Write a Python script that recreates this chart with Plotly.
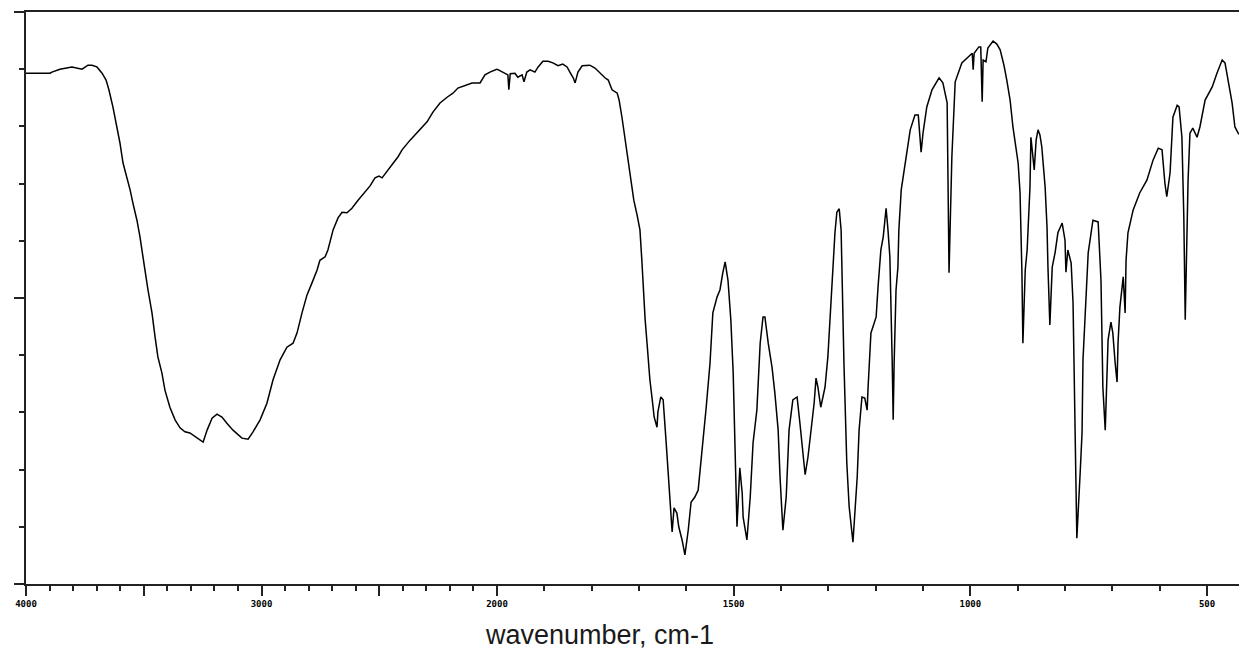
import plotly.graph_objects as go

# IR spectrum: wavenumber (cm-1) and transmittance (%)
wavenumber = [
    4000, 3962, 3898, 3890, 3856, 3805, 3779, 3762, 3737, 3720, 3699, 3677, 3660, 3648, 3631, 3614,
    3601, 3588, 3571, 3558, 3546, 3529, 3516, 3507, 3495, 3482, 3465, 3452, 3440, 3423, 3410, 3389,
    3367, 3346, 3325, 3304, 3274, 3248, 3231, 3210, 3189, 3168, 3147, 3121, 3083, 3057, 3036, 3006,
    2977, 2951, 2921, 2892, 2866, 2849, 2828, 2807, 2786, 2764, 2752, 2730, 2718, 2696, 2675, 2658,
    2637, 2616, 2590, 2565, 2539, 2518, 2501, 2488, 2471, 2446, 2420, 2403, 2369, 2327, 2297, 2272,
    2242, 2212, 2187, 2166, 2136, 2106, 2072, 2051, 2030, 2000,
    1989, 1977, 1975, 1972, 1962, 1956, 1947, 1943, 1937, 1930, 1920, 1913, 1903, 1892, 1882, 1871,
    1861, 1852, 1846, 1839, 1835, 1829, 1820, 1804, 1793, 1782, 1772, 1765, 1757, 1746, 1742, 1736,
    1730, 1723, 1717, 1711, 1704, 1698, 1694, 1691, 1687, 1683, 1677, 1672, 1668, 1662, 1660, 1654,
    1649, 1643, 1639, 1635, 1630, 1626, 1620, 1616, 1609, 1603, 1596, 1590, 1582, 1575, 1567, 1558,
    1550, 1544, 1535, 1529, 1523, 1518, 1512, 1506, 1501, 1497, 1493, 1487, 1482, 1480, 1472, 1465,
    1459, 1451, 1444, 1438, 1434, 1427, 1419, 1413, 1406, 1402, 1396, 1389, 1383, 1375, 1366, 1360,
    1356, 1349, 1343, 1335, 1330, 1326, 1322, 1316, 1311, 1307, 1301, 1296, 1290, 1286, 1282, 1277,
    1273, 1271, 1267, 1261, 1256, 1248, 1244, 1239, 1235, 1229, 1223, 1218, 1216, 1210, 1206, 1199,
    1195, 1189, 1184, 1178, 1174, 1170, 1165, 1163, 1161, 1157, 1153, 1151, 1146, 1138, 1127, 1117,
    1110, 1104, 1100, 1092, 1081, 1066, 1058, 1049, 1045, 1039, 1032, 1018, 996, 994, 992, 982,
    978, 975, 973, 967, 963, 952, 944, 937, 929, 923, 916, 910, 903, 899, 895, 893,
    891, 889, 884, 880, 878, 874, 872, 868, 865, 861, 857, 853, 849, 842, 838, 836,
    832, 827, 821, 815, 806, 800, 798, 794, 787, 783, 779, 775, 768, 764, 762, 756,
    751, 741, 730, 724, 720, 715, 711, 709, 703, 699, 694, 690, 688, 684, 677, 673,
    671, 667, 656, 648, 642, 627, 614, 603, 595, 589, 585, 578, 572, 563, 559, 553,
    549, 546, 540, 536, 530, 521, 515, 504, 489, 479, 468, 462, 456, 447, 441, 434, 430,
]

transmittance = [
    89.3, 89.3, 89.3, 89.5, 90.0, 90.4, 90.2, 90.0, 90.7, 90.7, 90.4, 89.3, 88.1, 86.4, 83.4, 79.9,
    77.1, 73.6, 71.2, 68.9, 66.6, 63.6, 60.7, 57.9, 54.9, 51.4, 47.4, 43.2, 39.7, 36.9, 33.9, 30.9,
    28.7, 27.3, 26.6, 26.4, 25.5, 24.8, 26.9, 29.0, 29.7, 29.2, 28.1, 26.9, 25.5, 25.3, 26.6, 28.7,
    31.6, 35.7, 39.2, 41.4, 42.1, 43.9, 47.4, 50.5, 52.6, 54.9, 56.6, 57.2, 58.4, 61.9, 64.0, 65.0,
    64.9, 65.7, 67.1, 68.4, 69.6, 71.0, 71.3, 71.0, 72.0, 73.3, 74.7, 75.9, 77.6, 79.4, 80.8, 82.5,
    84.1, 85.1, 85.8, 86.7, 87.2, 87.6, 87.6, 89.0, 89.5, 90.0,
    89.5, 89.0, 86.4, 89.2, 89.3, 88.6, 89.0, 87.8, 89.5, 89.9, 89.5, 90.4, 91.4, 91.4, 91.1, 90.6,
    90.9, 90.4, 89.5, 88.5, 87.6, 89.5, 90.6, 90.7, 90.2, 89.3, 88.5, 88.1, 86.4, 85.8, 84.6, 81.6,
    78.1, 74.7, 70.6, 67.1, 64.5, 61.9, 56.6, 51.9, 46.2, 42.1, 35.7, 32.2, 29.2, 27.4, 30.1, 32.7,
    32.2, 25.2, 20.5, 14.7, 9.1, 13.3, 12.4, 10.0, 7.7, 5.1, 9.4, 14.3, 15.2, 16.4, 22.9, 30.9,
    38.6, 47.4, 50.2, 51.4, 54.4, 56.3, 53.1, 46.2, 36.9, 22.2, 10.0, 20.3, 15.9, 11.7, 7.7, 15.2,
    24.7, 30.4, 42.1, 46.7, 46.7, 42.1, 37.9, 33.4, 26.9, 18.7, 9.4, 15.2, 26.9, 32.2, 32.7, 28.1,
    24.7, 19.1, 22.2, 28.1, 31.6, 36.0, 34.4, 30.9, 32.7, 34.4, 39.7, 47.4, 56.1, 61.4, 65.0, 65.6,
    61.9, 51.9, 38.6, 21.2, 13.5, 7.3, 12.4, 18.7, 26.9, 32.7, 32.5, 30.4, 34.4, 43.9, 44.9, 46.7,
    51.9, 58.4, 60.7, 65.7, 61.9, 57.2, 38.6, 28.7, 38.6, 51.4, 55.4, 61.9, 68.9, 73.6, 79.4, 82.0,
    82.0, 75.5, 78.8, 83.4, 86.4, 88.5, 87.6, 84.1, 54.4, 74.7, 87.8, 91.1, 92.8, 89.9, 92.8, 93.9,
    93.9, 84.3, 91.6, 91.3, 93.7, 94.9, 94.4, 93.4, 90.7, 88.1, 84.6, 79.9, 75.9, 73.6, 68.4, 61.9,
    54.4, 42.1, 54.9, 58.4, 62.8, 69.4, 78.1, 74.7, 72.4, 77.6, 79.4, 78.5, 76.4, 69.4, 62.4, 55.4,
    45.3, 55.4, 57.9, 61.4, 63.1, 60.1, 54.5, 58.4, 56.1, 49.1, 25.5, 8.0, 19.4, 26.4, 39.2, 49.1,
    57.9, 63.6, 63.3, 53.1, 34.4, 26.9, 36.9, 42.7, 45.8, 43.9, 38.6, 35.3, 42.1, 48.4, 53.7, 47.4,
    56.6, 61.4, 65.4, 67.1, 68.4, 70.6, 74.1, 76.2, 75.9, 70.1, 67.7, 71.9, 81.6, 83.7, 83.4, 78.1,
    64.2, 46.2, 70.6, 78.8, 79.7, 78.1, 79.9, 84.6, 86.9, 89.3, 91.6, 91.1, 88.1, 84.1, 79.9, 78.8, 78.5,
]

# Axis labelling
high_ticks = [4000, 3500, 3000, 2500, 2000]
high_labels = ["4000", "", "3000", "", "2000"]
low_ticks = [1500, 1000, 500]
low_labels = ["1500", "1000", "500"]
x_title = "wavenumber, cm-1"

split = 2000
hi_x = [w for w in wavenumber if w >= split]
hi_y = [t for w, t in zip(wavenumber, transmittance) if w >= split]
lo_x = [w for w in wavenumber if w <= split]
lo_y = [t for w, t in zip(wavenumber, transmittance) if w <= split]

line_style = dict(color="black", width=1.5)

fig = go.Figure()
fig.add_trace(go.Scatter(x=hi_x, y=hi_y, mode="lines", line=line_style,
                         xaxis="x", yaxis="y", showlegend=False, hoverinfo="x+y"))
fig.add_trace(go.Scatter(x=lo_x, y=lo_y, mode="lines", line=line_style,
                         xaxis="x2", yaxis="y", showlegend=False, hoverinfo="x+y"))

axis_col = "#222222"
tick_font = dict(family="DejaVu Sans Mono", size=9, color="black", weight="bold")
split_frac = 471 / 1213

common_x = dict(
    showline=True, linecolor=axis_col, linewidth=1.5, mirror=True,
    ticks="outside", ticklen=10, tickwidth=1.5, tickcolor=axis_col,
    showgrid=False, zeroline=False, tickfont=tick_font, tickmode="array",
    minor=dict(tickmode="linear", tick0=0, dtick=100, ticks="outside",
               ticklen=5, tickwidth=1.5, tickcolor=axis_col, showgrid=False),
)

FIG_W = 1250
plot_w = FIG_W - 26

fig.update_layout(
    width=FIG_W, height=662,
    margin=dict(l=26, r=0, t=12, b=78),
    paper_bgcolor="white", plot_bgcolor="white",
    xaxis=dict(domain=[0, split_frac], range=[4000, 2000], anchor="y",
               tickvals=high_ticks, ticktext=high_labels, **common_x),
    xaxis2=dict(domain=[split_frac, 1], range=[2000, 432.4], anchor="y",
                tickvals=low_ticks, ticktext=low_labels, **common_x),
    yaxis=dict(range=[0, 100], showline=True, linecolor=axis_col, linewidth=1.5,
               ticks="outside", ticklen=10, tickwidth=1.5, tickcolor=axis_col,
               tickmode="linear", tick0=0, dtick=50, showticklabels=False,
               showgrid=False, zeroline=False,
               minor=dict(tickmode="linear", tick0=0, dtick=10, ticks="outside",
                          ticklen=5, tickwidth=1.5, tickcolor=axis_col, showgrid=False)),
    annotations=[dict(text=x_title, xref="paper", yref="paper",
                      x=(605 - 26) / plot_w, y=-51 / 572, xanchor="center", yanchor="middle",
                      showarrow=False,
                      font=dict(family="Liberation Sans, Arial", size=27, color="#1a1a1a"))],
)

fig.write_html("out.html", config={"displayModeBar": False},
               post_script="document.body.style.margin='0px';document.body.style.overflow='hidden';")
